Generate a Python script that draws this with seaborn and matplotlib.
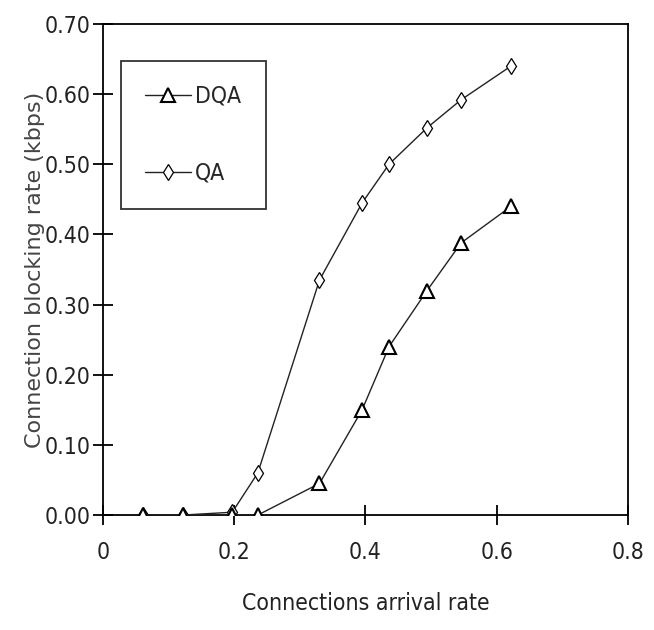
import numpy as np
import pandas as pd
import matplotlib
matplotlib.use("Agg")
import matplotlib.pyplot as plt
from matplotlib import font_manager
import seaborn as sns

# values
arrival_rate = [0.061, 0.122, 0.197, 0.236, 0.330, 0.395, 0.436, 0.494, 0.546, 0.622]
dqa_blocking = [0.0, 0.0, 0.0, 0.0, 0.045, 0.150, 0.240, 0.320, 0.388, 0.440]
qa_blocking = [0.0, 0.0, 0.004, 0.060, 0.335, 0.445, 0.500, 0.552, 0.592, 0.640]
x_ticks = [0, 0.2, 0.4, 0.6, 0.8]
x_tick_labels = ["0", "0.2", "0.4", "0.6", "0.8"]
y_ticks = [0.0, 0.1, 0.2, 0.3, 0.4, 0.5, 0.6, 0.7]
y_tick_labels = ["0.00", "0.10", "0.20", "0.30", "0.40", "0.50", "0.60", "0.70"]

df = pd.DataFrame({
    "rate": arrival_rate * 2,
    "blocking": dqa_blocking + qa_blocking,
    "scheme": ["DQA"] * len(arrival_rate) + ["QA"] * len(arrival_rate),
})

sns.set_style("white")
plt.rcParams['font.family'] = ['DejaVu Sans']

# the reference uses a condensed regular face, look for one
narrow = None
for f in font_manager.fontManager.ttflist:
    is_narrow = (f.stretch in ("condensed", "semi-condensed", "extra-condensed")
                 or "Narrow" in f.name or "Condensed" in f.name)
    weight_ok = f.weight in (400, "normal", "regular", "book")
    if is_narrow and weight_ok and f.style == "normal":
        narrow = f
        break
if narrow is not None:
    tick_font = font_manager.FontProperties(fname=narrow.fname, size=16.5)
else:
    tick_font = font_manager.FontProperties(family="DejaVu Sans", size=14)

fig = plt.figure(figsize=(6.54, 6.30), dpi=100)
ax = fig.add_axes([0.1575, 0.1825, 0.8025, 0.7795])

sns.lineplot(data=df[df.scheme == "QA"], x="rate", y="blocking", ax=ax,
             color="#222222", lw=1.0, marker="d", markersize=8.5,
             markerfacecolor="white", markeredgecolor="black", markeredgewidth=0.9,
             label="QA", zorder=3)
sns.lineplot(data=df[df.scheme == "DQA"], x="rate", y="blocking", ax=ax,
             color="#222222", lw=1.0, marker="^", markersize=10,
             markerfacecolor="white", markeredgecolor="black", markeredgewidth=1.5,
             label="DQA", zorder=4)

ax.set_xlim(0, 0.8)
ax.set_ylim(0, 0.70)
ax.set_xticks(x_ticks)
ax.set_xticklabels(x_tick_labels, fontproperties=tick_font, color="#222222")
ax.set_yticks(y_ticks)
ax.set_yticklabels(y_tick_labels, fontproperties=tick_font, color="#222222")
ax.tick_params(axis="both", direction="inout", length=14, width=1.3, color="black",
               bottom=True, left=True)
ax.tick_params(axis="x", pad=12)
ax.tick_params(axis="y", pad=2)

for side in ["left", "bottom", "top", "right"]:
    ax.spines[side].set_visible(True)
    ax.spines[side].set_color("black")
    ax.spines[side].set_linewidth(1.3)

ax.set_xlabel("Connections arrival rate", fontproperties=tick_font, labelpad=20, color="#222222")
ax.set_ylabel("Connection blocking rate (kbps)", fontsize=16, labelpad=0,
              color="#444444", family="DejaVu Sans")

handles, labels = ax.get_legend_handles_labels()
order = [labels.index("DQA"), labels.index("QA")]
leg = ax.legend([handles[i] for i in order], [labels[i] for i in order],
                loc="upper left", bbox_to_anchor=(0.034, 0.925), frameon=True,
                fancybox=False, edgecolor="black", prop=tick_font,
                handlelength=2.0, handletextpad=0.2, labelspacing=2.35,
                borderpad=1.05, borderaxespad=0)
leg.get_frame().set_linewidth(1.3)

fig.savefig("out.png", dpi=100, facecolor="white")
